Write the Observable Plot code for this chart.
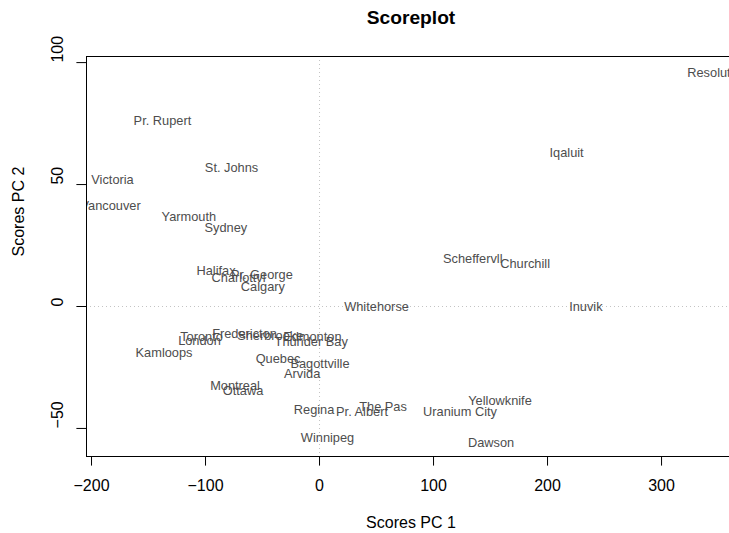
<!DOCTYPE html>
<html><head><meta charset="utf-8">
<script src="https://cdn.jsdelivr.net/npm/d3@7"></script>
<script src="https://cdn.jsdelivr.net/npm/@observablehq/plot@0.6"></script>
<style>body{margin:0;background:#fff;} svg{display:block}</style>
</head><body><div id="chart"></div>
<script>
const places = ["Resolute","Iqaluit","Pr. Rupert","St. Johns","Victoria","Vancouver","Yarmouth","Sydney",
  "Halifax","Charlottvl","Pr. George","Calgary","Whitehorse","Inuvik","Scheffervll","Churchill",
  "Yellowknife","Uranium City","The Pas","Pr. Albert","Regina","Winnipeg","Dawson","Kamloops",
  "Toronto","London","Fredericton","Sherbrooke","Edmonton","Thunder Bay","Quebec","Bagottville",
  "Arvida","Montreal","Ottawa"];
const pc1 = [344.7,216.7,-137.8,-77.2,-181.6,-183.3,-114.6,-82.2,
  -90.8,-71,-50.6,-49.7,50,233.6,134.4,180.3,
  158.3,123.2,55.7,37.3,-4.8,7,150.4,-136.4,
  -103.5,-105.3,-65.8,-43.2,-6.3,-7.3,-36.4,0.4,
  -15.2,-74.1,-67.1];
const pc2 = [95.9,63.1,75.9,56.8,51.9,41.1,36.6,32.1,
  14.8,11.6,13,8.2,0,0,19.5,17.6,
  -38.8,-43.4,-41.3,-43.4,-42.3,-54,-56,-19.1,
  -12.6,-14.2,-11.2,-11.9,-12.3,-14.6,-21.4,-23.5,
  -27.6,-32.4,-34.4];
const xTicks = [-200,-100,0,100,200,300];
const yTicks = [-50,0,50,100];
const title = "Scoreplot";
const xLabel = "Scores PC 1";
const yLabel = "Scores PC 2";
const xDomain = [-204.4, 359.6];
const yDomain = [-61.5, 102.5];

const data = places.map((p,i)=>({place:p, x:pc1[i], y:pc2[i]}));
const font = '"Liberation Sans", Arial, Helvetica, sans-serif';
const fmt = d => d < 0 ? "\u2212" + Math.abs(d) : String(d);

const chart = Plot.plot({
  width:729, height:533, marginLeft:86, marginRight:0, marginTop:56, marginBottom:77,
  style:{fontFamily:font, background:"#fff", color:"#000"},
  x:{domain:xDomain, axis:null},
  y:{domain:yDomain, axis:null},
  marks:[
    Plot.ruleX([0], {stroke:"#c4c4c4", strokeDasharray:"1,3"}),
    Plot.ruleY([0], {stroke:"#c4c4c4", strokeDasharray:"1,3"}),
    Plot.text(data, {x:"x", y:"y", text:"place", fontSize:12.8, fill:"#4d4d4d", clip:true}),
    Plot.ruleY(yDomain, {stroke:"#000"}),
    Plot.ruleX([xDomain[0]], {stroke:"#000"}),
    Plot.axisX({ticks:xTicks, tickSize:9.6, tickPadding:14, fontSize:16, label:null, tickFormat:fmt}),
    Plot.axisY({ticks:yTicks, tickSize:9.6, tickFormat:()=>"", label:null}),
    Plot.text(yTicks, {y:d=>d, text:fmt, frameAnchor:"left", rotate:-90, dx:-29, fontSize:16, fill:"#000"}),
    Plot.text([yLabel], {text:d=>d, frameAnchor:"left", lineAnchor:"middle", rotate:-90, dx:-68, fontSize:16, fill:"#000"}),
    Plot.text([xLabel], {text:d=>d, frameAnchor:"bottom", lineAnchor:"middle", dy:66, dx:3, fontSize:16, fill:"#000"}),
    Plot.text([title], {text:d=>d, frameAnchor:"top", lineAnchor:"middle", dy:-39, dx:3, fontSize:19.2, fontWeight:"bold", fill:"#000"})
  ]
});
document.getElementById("chart").appendChild(chart);
</script>
</body></html>
